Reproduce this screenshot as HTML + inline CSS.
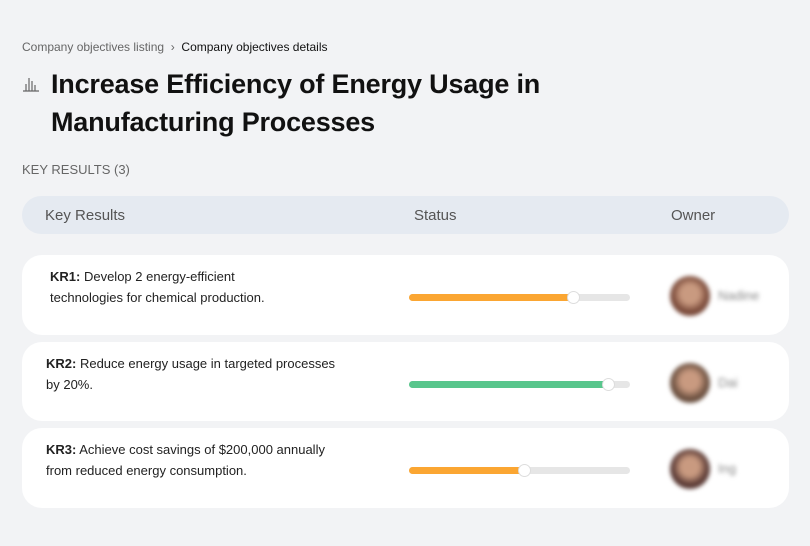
<!DOCTYPE html>
<html><head><meta charset="utf-8">
<style>
body{margin:0;width:810px;height:546px;background:#f2f3f5;font-family:"Liberation Sans",sans-serif;position:relative;overflow:hidden;color:#111}
.abs{position:absolute}
.crumb{left:22px;top:40px;font-size:12px;color:#666}
.crumb b{font-weight:normal;color:#111}
.title{left:51px;top:65px;font-size:27px;font-weight:bold;line-height:38px;letter-spacing:-0.2px}
.icon{left:22px;top:76px}
.kr{left:22px;top:162px;font-size:13px;color:#666}
.head{left:22px;top:196px;width:767px;height:38px;background:#e5eaf1;border-radius:19px;font-size:15px;color:#555}
.head span{position:absolute;top:11px}
.card{left:22px;width:767px;background:#fff;border-radius:20px}
.txt{position:absolute;font-size:13px;line-height:21px;color:#222}
.track{position:absolute;left:387px;width:221px;height:7px;background:#e6e6e6;border-radius:4px}
.fill{position:absolute;left:0;top:0;height:7px;border-radius:4px}
.knob{position:absolute;top:-3px;width:11px;height:11px;margin-left:-6px;background:#fff;border:1px solid #ddd;border-radius:50%}
.av{position:absolute;left:648px;width:40px;height:40px;border-radius:50%;filter:blur(2px)}
.nm{position:absolute;left:696px;font-size:13px;color:#888;filter:blur(2px)}
</style></head><body>
<div class="abs crumb"><span>Company objectives listing</span> &nbsp;›&nbsp; <b>Company objectives details</b></div>
<svg class="abs icon" width="18" height="16"><g fill="none" stroke="#666" stroke-width="1.2"><path d="M1 15h16M4 15V8M7 15V2M10 15V5M13 15V9"/></g></svg>
<div class="abs title">Increase Efficiency of Energy Usage in<br>Manufacturing Processes</div>
<div class="abs kr">KEY RESULTS (3)</div>
<div class="abs head">
<span style="left:23px">Key Results</span>
<span style="left:392px">Status</span>
<span style="left:649px">Owner</span>
</div>
<div id="rows"></div>
<script>
const labels=["KR1:","KR2:","KR3:"];
const texts=["Develop 2 energy-efficient<br>technologies for chemical production.","Reduce energy usage in targeted processes<br>by 20%.","Achieve cost savings of $200,000 annually<br>from reduced energy consumption."];
const progress=[74,90,52];
const colors=["#fba632","#58c68c","#fba632"];
const owners=["Nadine","Dai","Ing"];
const tops=[255,342,428],heights=[80,79,80],txtLeft=[28,24,24];
const avCol=["#7a4a3a","#6b5040","#5a3a35"];
const root=document.getElementById('rows');
progress.forEach((p,i)=>{
 const c=document.createElement('div');
 c.className='abs card';c.style.top=tops[i]+'px';c.style.height=heights[i]+'px';
 
 
 c.innerHTML=`<div class="txt" style="left:${txtLeft[i]}px;top:11px"><b>${labels[i]}</b> ${texts[i]}</div>
 <div class="track" style="top:${Math.round(heights[i]/2-1)}px"><div class="fill" style="width:${p}%;background:${colors[i]}"></div><div class="knob" style="left:${p}%"></div></div>
 <div class="av" style="top:${heights[i]/2-19}px;background:radial-gradient(circle at 50% 45%,#c99a80 0 30%,${avCol[i]} 60%)"></div>
 <div class="nm" style="top:${heights[i]/2-7}px">${owners[i]}</div>`;
 root.appendChild(c);
});
</script>
</body></html>
